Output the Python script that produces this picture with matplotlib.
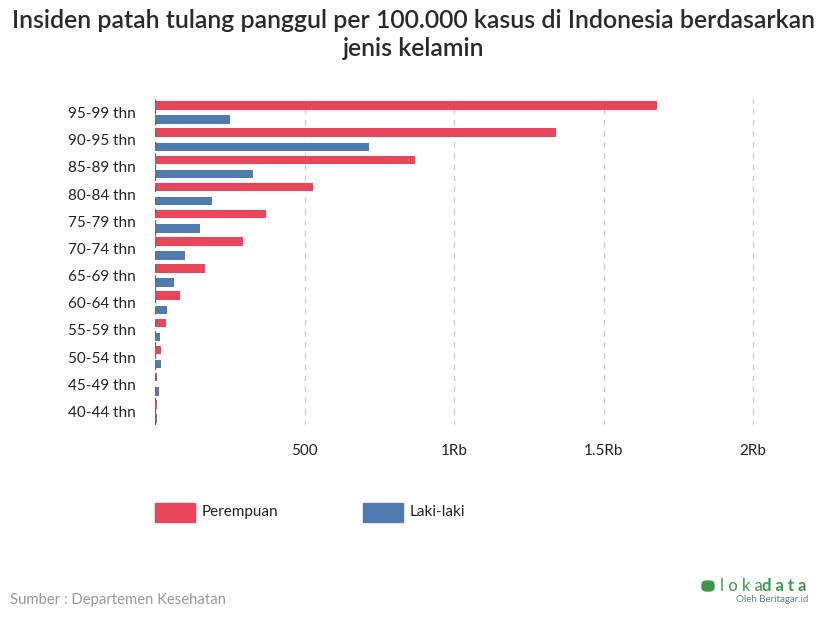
import numpy as np
import matplotlib.pyplot as plt
from matplotlib.patches import Rectangle, FancyBboxPatch

# data
kelompok_umur = ['95-99 thn', '90-95 thn', '85-89 thn', '80-84 thn', '75-79 thn',
                 '70-74 thn', '65-69 thn', '60-64 thn', '55-59 thn', '50-54 thn',
                 '45-49 thn', '40-44 thn']
perempuan = [1680, 1340, 871, 529, 371, 295, 167, 83, 38, 21, 8, 8]
laki_laki = [250, 716, 329, 192, 150, 100, 62, 41, 16, 21, 13, 7]
tick_vals = [500, 1000, 1500, 2000]
tick_labels = ['500', '1Rb', '1.5Rb', '2Rb']

plt.rcParams['font.family'] = ['Lato', 'DejaVu Sans']

merah = '#e8465a'
biru = '#4f7bb0'

fig = plt.figure(figsize=(8.27, 6.2), dpi=100)
ax = fig.add_axes([155 / 827, 1 - 425 / 620, (800 - 155) / 827, (425 - 99) / 620])

y = np.arange(len(kelompok_umur))
h = 0.31
ax.barh(y - 0.26, perempuan, height=h, color=merah, zorder=3)
ax.barh(y + 0.26, laki_laki, height=h, color=biru, zorder=3)

ax.set_ylim(len(kelompok_umur) - 0.5, -0.5)
ax.set_xlim(0, 2000 * 645 / 598)
ax.set_yticks(y)
ax.set_yticklabels(kelompok_umur, fontsize=11, color='#222222')
ax.set_xticks(tick_vals)
ax.set_xticklabels(tick_labels, fontsize=11, color='#222222')
ax.tick_params(length=0, pad=14)
ax.tick_params(axis='y', pad=14)

for v in tick_vals:
    ax.axvline(v, color='#cccccc', linestyle=(0, (4, 4)), linewidth=1, zorder=1)
ax.axvline(0, color='#666666', linestyle=(0, (4, 4)), linewidth=1, zorder=4)

for s in ax.spines.values():
    s.set_visible(False)

fig.text(0.5, 1 - 20 / 620, 'Insiden patah tulang panggul per 100.000 kasus di Indonesia berdasarkan',
         ha='center', va='center', fontsize=17.9, fontweight='semibold', color='#2a2a2a')
fig.text(0.5, 1 - 48 / 620, 'jenis kelamin', ha='center', va='center', fontsize=17.9,
         fontweight='semibold', color='#2a2a2a')

# legend
fig.patches.append(Rectangle((155 / 827, 1 - 522 / 620), 40 / 827, 19 / 620,
                             transform=fig.transFigure, color=merah))
fig.text(202 / 827, 1 - 512 / 620, 'Perempuan', va='center', fontsize=11, color='#222222')
fig.patches.append(Rectangle((363 / 827, 1 - 522 / 620), 40 / 827, 19 / 620,
                             transform=fig.transFigure, color=biru))
fig.text(410 / 827, 1 - 512 / 620, 'Laki-laki', va='center', fontsize=11, color='#222222')

# footer
fig.text(10 / 827, 1 - 600 / 620, 'Sumber : Departemen Kesehatan', va='center',
         fontsize=10.7, color='#999999')
fig.text(720 / 827, 1 - 586 / 620, 'l o k a', va='center', fontsize=12, color='#3a9a4a')
fig.text(762 / 827, 1 - 586 / 620, 'd a t a', va='center', fontsize=12,
         color='#3a9a4a', fontweight='bold')
fig.patches.append(FancyBboxPatch((702 / 827, 1 - 591 / 620), 12 / 827, 10 / 620,
                                  boxstyle='round,pad=0,rounding_size=0.006',
                                  transform=fig.transFigure, color='#3a9a4a'))
fig.text(808 / 827, 1 - 600 / 620, 'Oleh Beritagar.id', ha='right', va='center',
         fontsize=7, color='#6b7a90')

fig.savefig('out.png', dpi=100)
